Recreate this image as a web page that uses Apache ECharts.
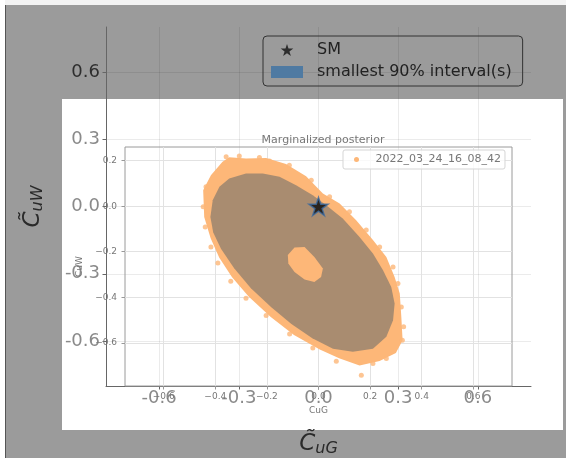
<!DOCTYPE html>
<html>
<head>
<meta charset="utf-8">
<script src="https://cdn.jsdelivr.net/npm/echarts@6/dist/echarts.min.js"></script>
<style>html,body{margin:0;padding:0;background:#fff}#c{width:566px;height:458px}</style>
</head>
<body>
<div id="c"></div>
<script>
// ---------- data ----------
const backTicks = [-0.6, -0.3, 0.0, 0.3, 0.6];
const frontTicksX = [-0.6, -0.4, -0.2, 0.0, 0.2, 0.4, 0.6];
const frontTicksY = [-0.6, -0.4, -0.2, 0.0, 0.2];
const smPoint = [[0.0, 0.0]];
const sampleName = '2022_03_24_16_08_42';
const intervalName = 'smallest 90% interval(s)';
// outline of the posterior samples (CuG, CuW)
const sampleOutline = [
  [-0.443,-0.047],[-0.447,0.070],[-0.417,0.136],[-0.372,0.195],[-0.346,0.215],[-0.281,0.210],
  [-0.203,0.212],[-0.126,0.185],[-0.048,0.132],[0.017,0.056],[0.082,0.012],[0.146,-0.062],
  [0.211,-0.149],[0.263,-0.223],[0.295,-0.311],[0.315,-0.384],[0.321,-0.486],[0.326,-0.589],
  [0.300,-0.645],[0.237,-0.680],[0.159,-0.700],[0.080,-0.668],[0.005,-0.630],[-0.095,-0.566],
  [-0.185,-0.487],[-0.270,-0.398],[-0.335,-0.312],[-0.385,-0.226],[-0.418,-0.141]
];
// smallest 90% interval: outer boundary
const interval90Outer = [
  [-0.419,-0.047],[-0.410,0.026],[-0.384,0.085],[-0.346,0.122],[-0.281,0.144],[-0.216,0.144],
  [-0.151,0.129],[-0.087,0.092],[-0.022,0.048],[0.030,0.004],[0.094,-0.054],[0.159,-0.135],
  [0.211,-0.208],[0.250,-0.281],[0.282,-0.355],[0.295,-0.428],[0.289,-0.501],[0.263,-0.574],
  [0.211,-0.626],[0.133,-0.640],[0.056,-0.626],[-0.024,-0.580],[-0.105,-0.518],[-0.183,-0.444],
  [-0.262,-0.361],[-0.327,-0.273],[-0.378,-0.187],[-0.408,-0.116]
];
// smallest 90% interval: inner hole
const interval90Inner = [
  [-0.119,-0.215],[-0.093,-0.182],[-0.054,-0.179],[-0.016,-0.223],[0.017,-0.274],
  [0.010,-0.311],[-0.016,-0.333],[-0.054,-0.322],[-0.093,-0.289],[-0.117,-0.252]
];
// sparse samples at the edge
const sampleDots = [
  [-0.358,0.217],[-0.307,0.220],[-0.229,0.214],[-0.190,0.199],[-0.436,0.085],[-0.447,-0.003],
  [-0.439,-0.091],[-0.417,-0.179],[-0.113,0.180],[-0.028,0.114],[0.043,0.041],[0.120,-0.025],
  [0.185,-0.105],[0.237,-0.179],[0.289,-0.267],[0.308,-0.340],[0.321,-0.443],[0.330,-0.530],
  [0.325,-0.589],[0.263,-0.669],[0.211,-0.691],[0.166,-0.743],[0.069,-0.681],[-0.022,-0.623],
  [-0.112,-0.562],[-0.203,-0.480],[-0.281,-0.405],[-0.340,-0.330],[-0.390,-0.250]
];

// ---------- styles ----------
const ORANGE = '#fdb778';
const BROWN = '#a98c70';
const BLUE = '#4f7aa2';
const FONT = 'DejaVu Sans';
const STAR = 'path://M50,0L61.2,34.5L97.6,34.5L68.2,55.9L79.4,90.5L50,69.1L20.6,90.5L31.8,55.9L2.4,34.5L38.8,34.5Z';

const chart = echarts.init(document.getElementById('c'), null, {renderer: 'canvas'});

function nameRich(color) {
  return {
    c: {fontSize: 23, fontStyle: 'italic', fontFamily: FONT, color: color},
    s: {fontSize: 16, fontStyle: 'italic', fontFamily: FONT, color: color, verticalAlign: 'bottom', padding: [10, 0, 0, 0]}
  };
}

const backLabelColor = function (v) { return Math.abs(v - 0.6) < 1e-6 ? '#2e2e2e' : '#8a8a8a'; };

const option = {
  animation: false,
  backgroundColor: '#9b9b9b',
  graphic: [
    {type: 'rect', z: 0, shape: {x: 0, y: 0, width: 566, height: 5}, style: {fill: '#f3f3f3'}},
    {type: 'rect', z: 0, shape: {x: 0, y: 0, width: 5, height: 458}, style: {fill: '#ffffff'}},
    {type: 'line', z: 0, shape: {x1: 5.5, y1: 5, x2: 5.5, y2: 458}, style: {stroke: '#555', lineWidth: 1}},
    {type: 'rect', z: 0, shape: {x: 62, y: 99, width: 501, height: 331}, style: {fill: '#ffffff'}}
  ],
  title: {
    text: 'Marginalized posterior', left: 318, top: 130, textAlign: 'center',
    textStyle: {fontSize: 11, fontWeight: 'normal', color: '#777', fontFamily: FONT}, z: 6
  },
  legend: [
    {
      left: 263, top: 36, orient: 'vertical', z: 8,
      data: [
        {name: 'SM', icon: STAR, itemStyle: {color: '#111', borderWidth: 0, borderColor: 'transparent'}},
        {name: intervalName, icon: 'rect', itemStyle: {color: BLUE, borderWidth: 0}}
      ],
      itemWidth: 32, itemHeight: 12, itemGap: 6, symbolKeepAspect: true,
      padding: [6, 11, 6, 8], borderColor: '#333', borderWidth: 1, borderRadius: 4,
      textStyle: {fontSize: 16, color: '#222', fontFamily: FONT, padding: [0, 0, 0, 9]},
      selectedMode: false
    },
    {
      left: 343, top: 150, orient: 'vertical', z: 8,
      data: [{name: sampleName, icon: 'circle', itemStyle: {color: ORANGE}}],
      itemWidth: 10, itemHeight: 5,
      padding: [4, 4, 4, 11], borderColor: '#d5d5d5', borderWidth: 1, borderRadius: 2,
      backgroundColor: 'rgba(255,255,255,0.8)',
      textStyle: {fontSize: 11, color: '#777', fontFamily: FONT, padding: [0, 0, 0, 9]},
      selectedMode: false
    }
  ],
  grid: [
    {left: 106, top: 27, right: 35, bottom: 72, z: 1, outerBoundsMode: 'none'},
    {left: 125, top: 147, right: 54, bottom: 72, z: 2, show: true, borderColor: '#9a9a9a', borderWidth: 1,
     backgroundColor: 'transparent', outerBoundsMode: 'none'}
  ],
  xAxis: [
    {
      type: 'value', gridIndex: 0, min: -0.8, max: 0.8, z: 1,
      axisLine: {show: true, onZero: false, lineStyle: {color: '#666', width: 1}},
      axisTick: {show: true, length: 3.5, customValues: backTicks, lineStyle: {color: '#666'}},
      axisLabel: {customValues: backTicks, margin: 3, fontSize: 18, fontFamily: FONT, color: '#8a8a8a',
        formatter: v => v.toFixed(1)},
      splitLine: {show: true, lineStyle: {color: 'rgba(0,0,0,0.08)', width: 1}},
      name: '{c|C\u0303}{s|uG}', nameLocation: 'middle', nameGap: 45,
      nameTextStyle: {rich: nameRich('#2a2a2a')}
    },
    {
      type: 'value', gridIndex: 1, min: -0.75, max: 0.75, z: 2,
      axisLine: {show: false, onZero: false},
      axisTick: {show: true, length: 3.5, customValues: frontTicksX, lineStyle: {color: '#999'}},
      axisLabel: {customValues: frontTicksX, margin: 6, fontSize: 9, fontFamily: FONT, color: '#777',
        formatter: v => v.toFixed(1).replace('-', '\u2212')},
      splitLine: {show: true, lineStyle: {color: '#e2e2e2', width: 1}},
      name: 'CuG', nameLocation: 'middle', nameGap: 20,
      nameTextStyle: {fontSize: 9, fontFamily: FONT, color: '#777'}
    }
  ],
  yAxis: [
    {
      type: 'value', gridIndex: 0, min: -0.8, max: 0.8, z: 1,
      axisLine: {show: true, onZero: false, lineStyle: {color: '#666', width: 1}},
      axisTick: {show: true, length: 3.5, customValues: backTicks, lineStyle: {color: '#666'}},
      axisLabel: {customValues: backTicks, margin: 6, fontSize: 18, fontFamily: FONT, color: backLabelColor,
        formatter: v => v.toFixed(1)},
      splitLine: {show: true, lineStyle: {color: 'rgba(0,0,0,0.08)', width: 1}},
      name: '{c|C\u0303}{s|uW}', nameLocation: 'middle', nameGap: 60, nameRotate: 90,
      nameTextStyle: {rich: nameRich('#2a2a2a')}
    },
    {
      type: 'value', gridIndex: 1, min: -0.79, max: 0.26, z: 2,
      axisLine: {show: false, onZero: false},
      axisTick: {show: true, length: 3.5, customValues: frontTicksY, lineStyle: {color: '#999'}},
      axisLabel: {customValues: frontTicksY, margin: 8, fontSize: 9, fontFamily: FONT, color: '#777',
        formatter: v => v.toFixed(1).replace('-', '\u2212')},
      splitLine: {show: true, lineStyle: {color: '#e2e2e2', width: 1}},
      name: 'CuW', nameLocation: 'middle', nameGap: 38, nameRotate: 90,
      nameTextStyle: {fontSize: 9, fontFamily: FONT, color: '#777'}
    }
  ],
  series: [
    {
      type: 'custom', name: sampleName, coordinateSystem: 'cartesian2d', xAxisIndex: 1, yAxisIndex: 1,
      data: [[0, 0]], z: 3, silent: true, itemStyle: {color: ORANGE},
      renderItem: function (params, api) {
        return {type: 'polygon', shape: {points: sampleOutline.map(p => api.coord(p))}, style: {fill: ORANGE}};
      }
    },
    {
      type: 'scatter', name: sampleName, xAxisIndex: 1, yAxisIndex: 1, data: sampleDots,
      symbol: 'circle', symbolSize: 5, itemStyle: {color: ORANGE}, z: 3, silent: true
    },
    {
      type: 'custom', name: intervalName, coordinateSystem: 'cartesian2d', xAxisIndex: 1, yAxisIndex: 1,
      data: [[0, 0]], z: 4, silent: true, itemStyle: {color: BROWN},
      renderItem: function (params, api) {
        return {
          type: 'group',
          children: [
            {type: 'polygon', shape: {points: interval90Outer.map(p => api.coord(p))}, style: {fill: BROWN}},
            {type: 'polygon', shape: {points: interval90Inner.map(p => api.coord(p))}, style: {fill: ORANGE}}
          ]
        };
      }
    },
    {
      type: 'scatter', name: 'SM', xAxisIndex: 0, yAxisIndex: 0, data: smPoint,
      symbol: STAR, symbolSize: 19, symbolKeepAspect: true,
      itemStyle: {color: '#0a0a0a', borderColor: '#3b6aa0', borderWidth: 1.5}, z: 6, silent: true
    }
  ]
};
chart.setOption(option);
</script>
</body>
</html>
